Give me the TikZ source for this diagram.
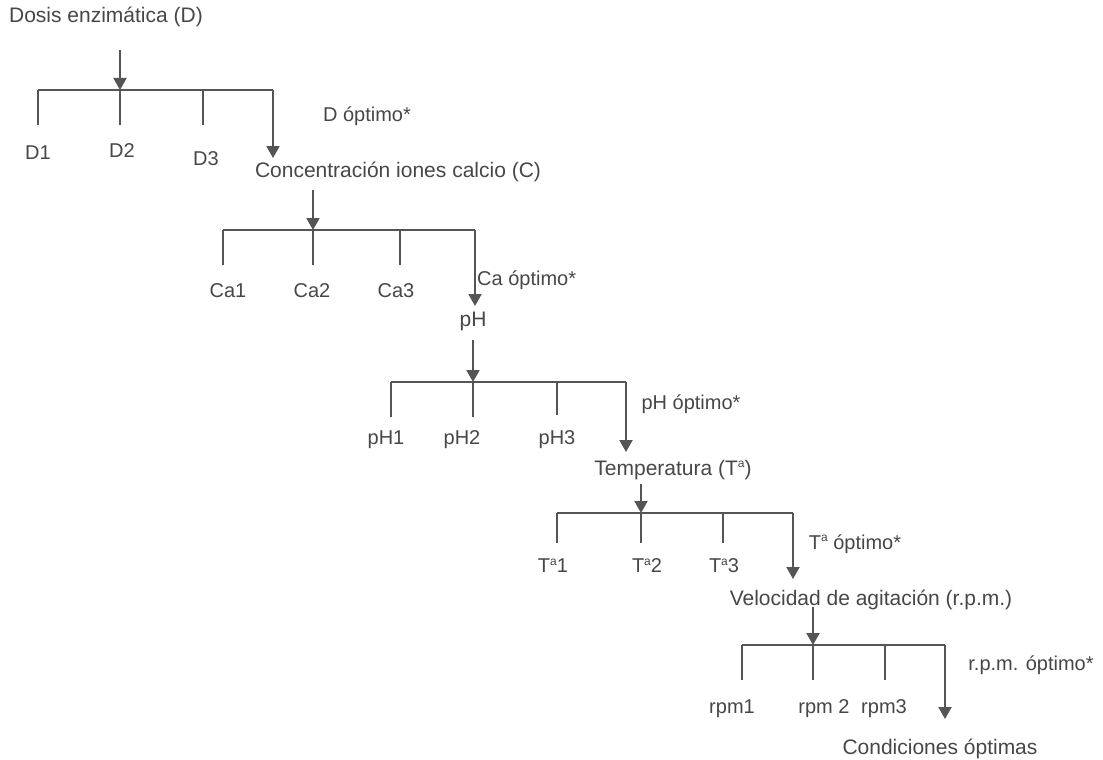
\documentclass[tikz,border=0pt]{standalone}
\usepackage{fontspec}
\setmainfont{Liberation Sans}
\usetikzlibrary{arrows.meta}
\definecolor{lc}{HTML}{555555}
\definecolor{txt}{HTML}{474747}
\newcommand{\supa}{\raisebox{7.5pt}{\fontsize{12}{12}\selectfont a}}
\begin{document}
\begin{tikzpicture}[x=1pt,y=-1pt,
  lbl/.style={text=txt,font=\fontsize{20}{24}\selectfont,inner sep=0pt},
  ttl/.style={text=txt,font=\fontsize{21}{25}\selectfont,inner sep=0pt},
  ln/.style={draw=lc,line width=2pt},
  arr/.style={ln,-{Triangle[length=12pt,width=13pt]}}]
\useasboundingbox (0,0) rectangle (1103,760);
\fill[white] (0,0) rectangle (1103,760);
% ---------- level 1
\node[ttl] (t1) at (106,17) {Dosis enzimática (D)};
\coordinate (s1) at (120,50);
\coordinate (bL1) at (38,90);
\coordinate (bM1) at (120,90);
\coordinate (b31) at (203,90);
\coordinate (bR1) at (273,90);
\draw[arr] (s1) -- (bM1);
\draw[ln] (bL1) -- (bR1);
\draw[ln] (bL1) -- ++(0,35);
\draw[ln] (bM1) -- ++(0,35);
\draw[ln] (b31) -- ++(0,35);
\node[lbl] (d1) at (38,153) {D1};
\node[lbl] (d2) at (122,151) {D2};
\node[lbl] (d3) at (206,159) {D3};
\node[lbl] (o1) at (367,116) {D óptimo*};
% ---------- level 2
\node[ttl] (t2) at (398,172) {Concentración iones calcio (C)};
\draw[arr] (bR1) -- (273,158);
\coordinate (s2) at (313,190);
\coordinate (bL2) at (223,230);
\coordinate (bM2) at (313,230);
\coordinate (b32) at (400,230);
\coordinate (bR2) at (475,230);
\draw[arr] (s2) -- (bM2);
\draw[ln] (bL2) -- (bR2);
\draw[ln] (bL2) -- ++(0,35);
\draw[ln] (bM2) -- ++(0,35);
\draw[ln] (b32) -- ++(0,35);
\node[lbl] (c1) at (228,291) {Ca1};
\node[lbl] (c2) at (312,291) {Ca2};
\node[lbl] (c3) at (396,291) {Ca3};
\node[lbl,anchor=west] (o2) at (477,280) {Ca óptimo*};
% ---------- level 3
\node[ttl] (t3) at (473,321) {pH};
\draw[arr] (bR2) -- (475,306);
\coordinate (s3) at (473,340);
\coordinate (bL3) at (391,382);
\coordinate (bM3) at (473,382);
\coordinate (b33) at (557,382);
\coordinate (bR3) at (626,382);
\draw[arr] (s3) -- (bM3);
\draw[ln] (bL3) -- (bR3);
\draw[ln] (bL3) -- ++(0,35);
\draw[ln] (bM3) -- ++(0,35);
\draw[ln] (b33) -- ++(0,33);
\node[lbl] (p1) at (386,440) {pH1};
\node[lbl] (p2) at (462,440) {pH2};
\node[lbl] (p3) at (557,440) {pH3};
\node[lbl] (o3) at (691,404) {pH óptimo*};
% ---------- level 4
\node[ttl] (t4) at (673,470) {Temperatura (T\supa)};
\draw[arr] (bR3) -- (626,452);
\coordinate (s4) at (641,484);
\coordinate (bL4) at (557,513);
\coordinate (bM4) at (641,513);
\coordinate (b34) at (723,513);
\coordinate (bR4) at (793,513);
\draw[arr] (s4) -- (bM4);
\draw[ln] (bL4) -- (bR4);
\draw[ln] (bL4) -- ++(0,30);
\draw[ln] (bM4) -- ++(0,30);
\draw[ln] (b34) -- ++(0,30);
\node[lbl] (q1) at (553,566) {T\supa1};
\node[lbl] (q2) at (647,566) {T\supa2};
\node[lbl] (q3) at (724,566) {T\supa3};
\node[lbl] (o4) at (855,544) {T\supa{} óptimo*};
% ---------- level 5
\node[ttl] (t5) at (871,600) {Velocidad de agitación (r.p.m.)};
\draw[arr] (bR4) -- (793,579);
\coordinate (s5) at (813,607);
\coordinate (bL5) at (742,645);
\coordinate (bM5) at (813,645);
\coordinate (b35) at (885,645);
\coordinate (bR5) at (945,645);
\draw[arr] (s5) -- (bM5);
\draw[ln] (bL5) -- (bR5);
\draw[ln] (bL5) -- ++(0,35);
\draw[ln] (bM5) -- ++(0,35);
\draw[ln] (b35) -- ++(0,35);
\node[lbl] (r1) at (732,709) {rpm1};
\node[lbl] (r2) at (824,709) {rpm 2};
\node[lbl] (r3) at (884,709) {rpm3};
\node[lbl] (o5) at (1031,665) {r.p.m. óptimo*};
% ---------- end
\node[ttl] (t6) at (940,749) {Condiciones óptimas};
\draw[arr] (bR5) -- (945,719);
\end{tikzpicture}
\end{document}
